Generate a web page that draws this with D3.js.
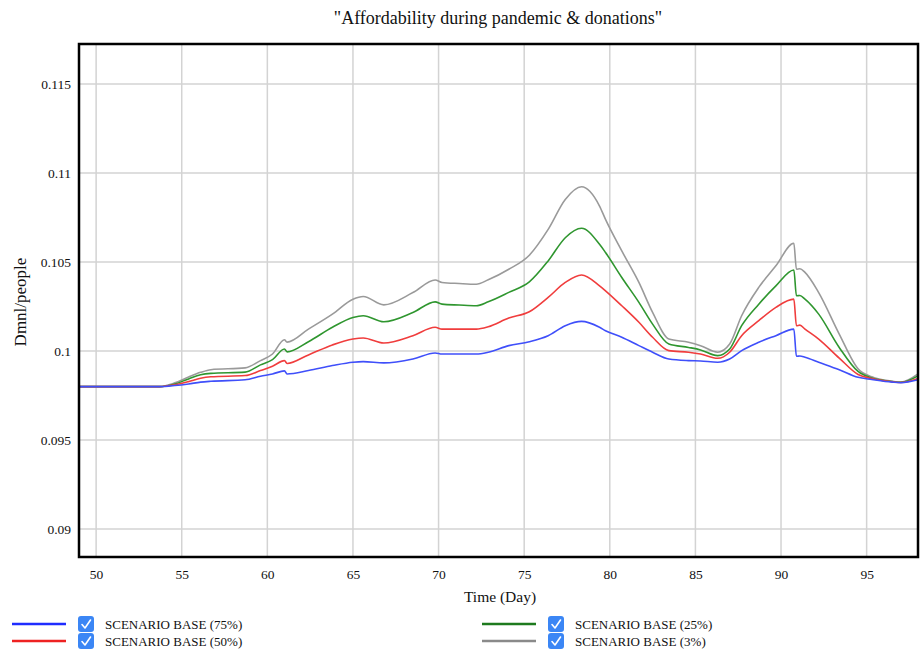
<!DOCTYPE html>
<html>
<head>
<meta charset="utf-8">
<script src="https://cdn.jsdelivr.net/npm/d3@7"></script>
<style>
  body { margin: 0; background: #fff; }
</style>
</head>
<body>
<svg id="chart" width="922" height="653"></svg>
<script>
// time axis (days) shared by all series
var days = [49, 53.7, 54.6, 55.4, 56.1, 56.7, 58.7, 59.6, 60.3, 61.0, 61.15, 62.4, 63.8, 65.0, 65.6, 66.8,
  68.5, 69.8, 70.2, 71.2, 72.2, 72.9, 74.1, 75.3, 76.4, 77.4, 78.35, 79.4, 79.75, 80.7, 81.7, 82.5,
  83.45, 84.6, 85.3, 86.3, 87.0, 87.7, 88.7, 89.7, 90.75, 90.9, 91.1, 91.4, 92.2, 93.4, 94.5, 95.3,
  96.5, 97.0, 98];

var base75 = [0.098, 0.098, 0.09806, 0.09815, 0.09825, 0.0983, 0.09838, 0.09858, 0.09871, 0.09888, 0.09871,
  0.0989, 0.09918, 0.09937, 0.0994, 0.09933, 0.09955, 0.09989, 0.09983, 0.09983, 0.09983, 0.09993, 0.1003,
  0.10052, 0.10086, 0.10142, 0.10166, 0.10133, 0.10114, 0.10077, 0.1003, 0.09993, 0.09955, 0.09946, 0.09944,
  0.09937, 0.09955, 0.10002, 0.10049, 0.10086, 0.10123, 0.0997, 0.09972, 0.09965, 0.09937, 0.09895, 0.09852,
  0.0984, 0.09825, 0.09822, 0.09838];

var base50 = [0.098, 0.098, 0.0981, 0.09828, 0.09847, 0.09855, 0.09862, 0.0989, 0.09914, 0.09946, 0.0993,
  0.09978, 0.10034, 0.10067, 0.10073, 0.10045, 0.10086, 0.10133, 0.10123, 0.10123, 0.10123, 0.10136, 0.10185,
  0.1022, 0.10301, 0.10385, 0.10427, 0.10366, 0.10338, 0.10254, 0.10161, 0.10077, 0.10002, 0.09993, 0.09983,
  0.09959, 0.09993, 0.10086, 0.1017, 0.10245, 0.10291, 0.10142, 0.10145, 0.10123, 0.10067, 0.0996, 0.09868,
  0.09845, 0.09827, 0.09823, 0.09845];

var base25 = [0.098, 0.098, 0.09815, 0.09843, 0.09866, 0.09874, 0.09881, 0.09922, 0.09951, 0.10011, 0.09995,
  0.10052, 0.10133, 0.10188, 0.10198, 0.10164, 0.10216, 0.10276, 0.10263, 0.10258, 0.10254, 0.10276, 0.10329,
  0.10388, 0.10506, 0.10636, 0.10689, 0.10599, 0.10553, 0.10413, 0.10273, 0.10151, 0.10039, 0.1002, 0.10006,
  0.09974, 0.10011, 0.10142, 0.10263, 0.10366, 0.10455, 0.1031, 0.10312, 0.10291, 0.10207, 0.1002, 0.09885,
  0.09848, 0.09828, 0.09824, 0.0986];

var base3 = [0.098, 0.098, 0.09821, 0.09854, 0.0988, 0.09895, 0.09905, 0.09946, 0.09983, 0.10063, 0.1005,
  0.10123, 0.10207, 0.10291, 0.10306, 0.10259, 0.10328, 0.10399, 0.10385, 0.10379, 0.10375, 0.104, 0.10459,
  0.10538, 0.10683, 0.10851, 0.10922, 0.10814, 0.10739, 0.10562, 0.10385, 0.10217, 0.10067, 0.10049, 0.1003,
  0.09993, 0.10039, 0.10198, 0.10357, 0.10478, 0.10605, 0.10459, 0.10462, 0.10441, 0.10328, 0.10095, 0.099,
  0.09855, 0.0983, 0.09825, 0.09871];

var xTicks = [50, 55, 60, 65, 70, 75, 80, 85, 90, 95];
var yTicks = [0.09, 0.095, 0.1, 0.105, 0.11, 0.115];

var seriesNames = ["SCENARIO BASE (75%)", "SCENARIO BASE (50%)", "SCENARIO BASE (25%)", "SCENARIO BASE (3%)"];
var seriesValues = [base75, base50, base25, base3];
var seriesColors = ["#3f4ffa", "#f03d3d", "#2f962f", "#9a9a9a"];
var legendColors = ["#1f2cff", "#ee2222", "#1e7a1e", "#8a8a8a"];

var FONT = "'Liberation Serif', 'Times New Roman', Tinos, 'DejaVu Serif', serif";

var svg = d3.select("#chart");

// plot frame
var margin = {top: 44, right: 4, bottom: 96, left: 79};
var width = 922 - margin.left - margin.right;
var height = 653 - margin.top - margin.bottom;

var x = d3.scaleLinear().domain([49, 98]).range([0, width]);
var y = d3.scaleLinear().domain([0.08843, 0.11724]).range([height, 0]);

var g = svg.append("g")
  .attr("transform", "translate(" + margin.left + "," + margin.top + ")");

// grid
g.append("g").selectAll("line").data(xTicks).enter().append("line")
  .attr("x1", function(d) { return x(d); }).attr("x2", function(d) { return x(d); })
  .attr("y1", 0).attr("y2", height)
  .attr("stroke", "#d3d3d3").attr("stroke-width", 1.5);

g.append("g").selectAll("line").data(yTicks).enter().append("line")
  .attr("y1", function(d) { return y(d); }).attr("y2", function(d) { return y(d); })
  .attr("x1", 0).attr("x2", width)
  .attr("stroke", "#d3d3d3").attr("stroke-width", 1.5);

// axes (labels only, frame drawn separately)
var xAxis = d3.axisBottom(x).tickValues(xTicks).tickSize(0).tickPadding(12);
var yAxis = d3.axisLeft(y).tickValues(yTicks).tickSize(0).tickPadding(8)
  .tickFormat(function(d) { return String(+d.toFixed(3)); });

var gx = g.append("g").attr("transform", "translate(0," + height + ")").call(xAxis);
var gy = g.append("g").call(yAxis);
[gx, gy].forEach(function(a) {
  a.attr("font-family", FONT).attr("font-size", 13.5);
  a.select(".domain").remove();
  a.selectAll("text").attr("fill", "#111");
});

// lines, gray underneath, blue on top
var line = d3.line()
  .x(function(d) { return x(d[0]); })
  .y(function(d) { return y(d[1]); })
  .curve(d3.curveMonotoneX);

for (var s = seriesValues.length - 1; s >= 0; s--) {
  var pts = days.map(function(d, i) { return [d, seriesValues[s][i]]; });
  g.append("path")
    .datum(pts)
    .attr("fill", "none")
    .attr("stroke", seriesColors[s])
    .attr("stroke-width", 1.6)
    .attr("d", line);
}

g.append("rect")
  .attr("x", 0).attr("y", 0).attr("width", width).attr("height", height)
  .attr("fill", "none").attr("stroke", "#000").attr("stroke-width", 2.5);

// titles
svg.append("text").attr("x", 498).attr("y", 24).attr("text-anchor", "middle")
  .attr("font-family", FONT).attr("font-size", 18).attr("fill", "#111")
  .text("\"Affordability during pandemic & donations\"");

svg.append("text").attr("x", 500).attr("y", 602).attr("text-anchor", "middle")
  .attr("font-family", FONT).attr("font-size", 15.5).attr("fill", "#111")
  .text("Time (Day)");

svg.append("text").attr("transform", "translate(26,302) rotate(-90)").attr("text-anchor", "middle")
  .attr("font-family", FONT).attr("font-size", 17).attr("fill", "#111")
  .text("Dmnl/people");

// legend: two columns, two rows
var legendPos = [[12, 624], [12, 641], [482, 624], [482, 641]];
var legend = svg.append("g").selectAll("g").data(seriesNames).enter().append("g")
  .attr("transform", function(d, i) { return "translate(" + legendPos[i][0] + "," + legendPos[i][1] + ")"; });

legend.append("line")
  .attr("x1", 0).attr("x2", 54).attr("y1", 0).attr("y2", 0)
  .attr("stroke", function(d, i) { return legendColors[i]; }).attr("stroke-width", 2.5);

legend.append("rect")
  .attr("x", 66).attr("y", -8).attr("width", 16).attr("height", 16).attr("rx", 3)
  .attr("fill", "#3b86f5");

legend.append("path")
  .attr("d", "M70,0.5 L73,4 L78.5,-4")
  .attr("fill", "none").attr("stroke", "#fff").attr("stroke-width", 1.6)
  .attr("stroke-linecap", "round").attr("stroke-linejoin", "round");

legend.append("text")
  .attr("x", 93).attr("y", 4.5)
  .attr("font-family", FONT).attr("font-size", 13).attr("fill", "#111")
  .text(function(d) { return d; });
</script>
</body>
</html>
